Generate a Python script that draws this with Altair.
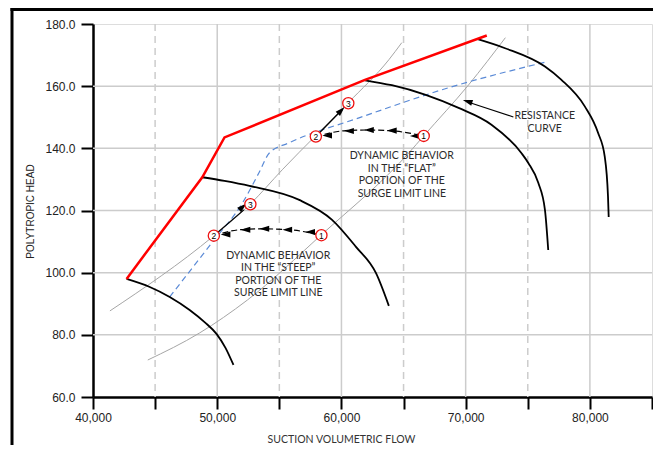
import altair as alt
import pandas as pd

# ---------------- data ----------------
# speed curves (black)
c1_x = [42702, 44571, 46175, 47778, 48981, 49943, 50665, 51307]
c1_y = [98.0, 95.4, 92.2, 88.0, 84.1, 80.3, 75.8, 70.3]
c2_x = [48797, 50585, 52590, 56600, 59246, 61170, 62774, 63816]
c2_y = [130.7, 129.5, 127.9, 123.4, 117.0, 108.3, 99.9, 89.3]
c3_x = [61891, 64057, 66783, 69429, 72076, 74482, 75043, 75845, 76382, 76647]
c3_y = [161.9, 160.3, 157.2, 153.0, 147.6, 138.5, 135.3, 128.9, 120.2, 107.3]
c4_x = [70898, 73175, 76382, 77689, 79589, 80656, 81193, 81458, 81514]
c4_y = [175.2, 172.2, 166.3, 162.1, 153.5, 145.0, 137.4, 124.5, 117.9]

# surge limit line (red)
surge_x = [42702, 48797, 50585, 61891, 71699]
surge_y = [98.0, 130.7, 143.5, 162.0, 176.3]

# surge control line (blue dashed)
ctrl_x = [46175, 49623, 52029, 53392, 54194, 55798, 61411, 68628, 76487]
ctrl_y = [92.2, 109.9, 122.4, 132.4, 138.5, 141.8, 149.8, 159.5, 167.8]

# resistance curves (gray)
r1_x = [41363, 49703, 52670, 55236, 60529, 63816, 64859]
r1_y = [87.7, 111.8, 122.1, 133.1, 154.6, 168.5, 174.0]
r2_x = [44410, 48580, 52429, 58363, 65420, 66623, 70232, 73199]
r2_y = [71.9, 80.6, 91.2, 112.1, 138.5, 144.0, 160.4, 175.6]

# numbered operating points
pt_label = ["1", "2", "3", "1", "2", "3"]
pt_x = [58388, 49727, 52670, 66623, 57938, 60553]
pt_y = [112.05, 111.9, 122.0, 144.0, 143.8, 154.5]

# dashed transition paths 1 -> 2
arcL_x = [58388, 55797, 53632, 51788, 49727]
arcL_y = [112.05, 113.8, 114.1, 113.8, 111.9]
arcU_x = [66623, 63816, 61948, 60344, 57938]
arcU_y = [144.0, 145.7, 145.9, 145.7, 143.8]
headL_x = [50665, 52269, 53793, 55637, 57481]
headL_y = [112.3, 113.8, 114.1, 113.8, 113.1]
headU_x = [58845, 60609, 62212, 64057, 65901]
headU_y = [144.1, 145.6, 145.9, 145.7, 144.0]

# solid arrows 2 -> 3
arr_x = [49727, 57938]
arr_y = [111.9, 143.8]
arr_x2 = [52142, 60048]
arr_y2 = [120.2, 152.4]
arr_head_x = [52062, 59983]
arr_head_y = [121.2, 152.2]
arr_angle = [319, 314]

# resistance curve pointer
rc_x = [73840]
rc_y = [150.1]
rc_x2 = [70232]
rc_y2 = [154.8]
rc_head_x = [70150]
rc_head_y = [155.1]

# annotations
notes = ["DYNAMIC BEHAVIOR\nIN THE \u201cSTEEP\u201d\nPORTION OF THE\nSURGE LIMIT LINE",
         "DYNAMIC BEHAVIOR\nIN THE \u201cFLAT\u201d\nPORTION OF THE\nSURGE LIMIT LINE",
         "RESISTANCE\nCURVE"]
note_x = [54915, 64859, 76366]
note_y = [107.0, 139.1, 152.0]

# grid
grid_solid_x = [50000, 60000, 70000, 80000]
grid_dash_x = [45000, 55000, 65000, 75000]
grid_y = [80, 100, 120, 140, 160]
x_ticks = list(range(40000, 85001, 5000))
y_ticks = [60, 80, 100, 120, 140, 160, 180]

# ---------------- chart ----------------
W, H = 559, 373
PB = 48

xs = alt.Scale(domain=[40000, 85000], nice=False, zero=False)
ys = alt.Scale(domain=[60, 180], nice=False, zero=False)

xaxis = alt.Axis(values=x_ticks,
                 labelExpr="datum.value % 10000 === 0 ? format(datum.value, ',') : ''",
                 grid=False, domainColor="black", domainWidth=2.5,
                 tickColor="black", tickWidth=2, tickSize=12,
                 labelFont="Liberation Sans", labelFontSize=12, labelColor="#222",
                 labelPadding=3, labelFlush=False, labelOverlap=False,
                 title="SUCTION VOLUMETRIC FLOW", titleFont="Lato", titleFontSize=10.5,
                 titleFontWeight="normal", titleColor="#333",
                 titleX=248, titleY=42, titleAlign="center", titleBaseline="middle")
yaxis = alt.Axis(values=y_ticks, format=".1f",
                 grid=False, domainColor="black", domainWidth=2.5,
                 tickColor="black", tickWidth=2, tickSize=12,
                 labelFont="Liberation Sans", labelFontSize=12, labelColor="#222",
                 labelPadding=6, labelFlush=False, labelOverlap=False,
                 title="POLYTROPIC HEAD", titleFont="Liberation Sans", titleFontSize=10,
                 titleFontWeight="normal", titleColor="#222",
                 titleX=-63, titleY=187, titleAlign="center", titleBaseline="middle")

X = alt.X("x:Q", scale=xs, axis=xaxis)
Y = alt.Y("y:Q", scale=ys, axis=yaxis)


def curves(pairs):
    rows = []
    for name, xv, yv in pairs:
        for a, b in zip(xv, yv):
            rows.append({"name": name, "x": a, "y": b})
    return pd.DataFrame(rows)


one = pd.DataFrame({"k": [0]})

g_solid = alt.Chart(pd.DataFrame({"x": grid_solid_x})).mark_rule(
    color="#cccccc", strokeWidth=1.5).encode(x=X)
g_dash = alt.Chart(pd.DataFrame({"x": grid_dash_x})).mark_rule(
    color="#cccccc", strokeWidth=1.5, strokeDash=[7, 5]).encode(x=X)
g_h = alt.Chart(pd.DataFrame({"y": grid_y})).mark_rule(
    color="#cccccc", strokeWidth=1.5).encode(y=Y)

res = alt.Chart(curves([("r1", r1_x, r1_y), ("r2", r2_x, r2_y)])).mark_line(
    color="#a6a6a6", strokeWidth=1, interpolate="monotone").encode(x=X, y=Y, detail="name:N")

ctrl = alt.Chart(curves([("c", ctrl_x, ctrl_y)])).mark_line(
    color="#5a8ad6", strokeWidth=1.2, strokeDash=[6, 4], interpolate="monotone").encode(x=X, y=Y)

speed = alt.Chart(curves([("s1", c1_x, c1_y), ("s2", c2_x, c2_y),
                          ("s3", c3_x, c3_y), ("s4", c4_x, c4_y)])).mark_line(
    color="black", strokeWidth=1.8, interpolate="monotone").encode(x=X, y=Y, detail="name:N")

surge = alt.Chart(curves([("s", surge_x, surge_y)])).mark_line(
    color="#ff0000", strokeWidth=2.5).encode(x=X, y=Y)

arcs = alt.Chart(curves([("l", arcL_x, arcL_y), ("u", arcU_x, arcU_y)])).mark_line(
    color="black", strokeWidth=1.2, strokeDash=[6, 3], interpolate="monotone").encode(
    x=X, y=Y, detail="name:N")

head_shape = "M 1 0 L -1 -0.62 L -1 0.62 Z"
heads = alt.Chart(pd.DataFrame({"x": headL_x + headU_x, "y": headL_y + headU_y})).mark_point(
    shape=head_shape, filled=True, color="black", opacity=1, size=95, angle=180).encode(x=X, y=Y)

arrows = alt.Chart(pd.DataFrame({"x": arr_x, "y": arr_y, "x2": arr_x2, "y2": arr_y2})).mark_rule(
    color="black", strokeWidth=1.3).encode(x=X, y=Y, x2="x2:Q", y2="y2:Q")
arrow_heads = alt.Chart(pd.DataFrame({"x": arr_head_x, "y": arr_head_y, "a": arr_angle})).mark_point(
    shape=head_shape, filled=True, color="black", opacity=1, size=95).encode(
    x=X, y=Y, angle=alt.Angle("a:Q", scale=None))

pts = pd.DataFrame({"x": pt_x, "y": pt_y, "t": pt_label})
circles = alt.Chart(pts).mark_point(
    shape="circle", fill="white", stroke="#ee1111", strokeWidth=1.3, size=125,
    opacity=1, fillOpacity=1).encode(x=X, y=Y)
nums = alt.Chart(pts).mark_text(
    font="Liberation Sans", fontSize=8.5, color="black", baseline="middle", align="center",
    dy=0.5).encode(x=X, y=Y, text="t:N")

txt = alt.Chart(pd.DataFrame({"x": note_x, "y": note_y, "t": notes})).mark_text(
    font="Lato", fontSize=10.5, color="#2b2b2b", baseline="top", align="center",
    lineBreak="\n", lineHeight=12.5).encode(x=X, y=Y, text="t:N")

rc_line = alt.Chart(pd.DataFrame({"x": rc_x, "y": rc_y, "x2": rc_x2, "y2": rc_y2})).mark_rule(
    color="black", strokeWidth=1.1).encode(x=X, y=Y, x2="x2:Q", y2="y2:Q")
rc_head = alt.Chart(pd.DataFrame({"x": rc_head_x, "y": rc_head_y})).mark_point(
    shape=head_shape, filled=True, color="black", opacity=1, size=95, angle=198).encode(x=X, y=Y)

frame_left = alt.Chart(one).mark_rule(color="black", strokeWidth=3).encode(
    x=alt.value(-81), y=alt.value(-16), y2=alt.value(H + PB))
frame_top = alt.Chart(one).mark_rule(color="black", strokeWidth=3).encode(
    y=alt.value(-14.5), x=alt.value(-82.5), x2=alt.value(W + 1))

chart = alt.layer(
    g_solid, g_dash, g_h, res, ctrl, speed, surge, arcs, heads, arrows, arrow_heads,
    circles, nums, txt, rc_line, rc_head, frame_left, frame_top
).properties(
    width=W, height=H,
    padding={"left": 85, "top": 16, "right": 1, "bottom": PB},
    autosize=alt.AutoSizeParams(type="none"),
).configure_view(stroke="black", strokeWidth=2).configure(background="white")

chart.save("out.html", embed_options={"renderer": "svg", "actions": False})
